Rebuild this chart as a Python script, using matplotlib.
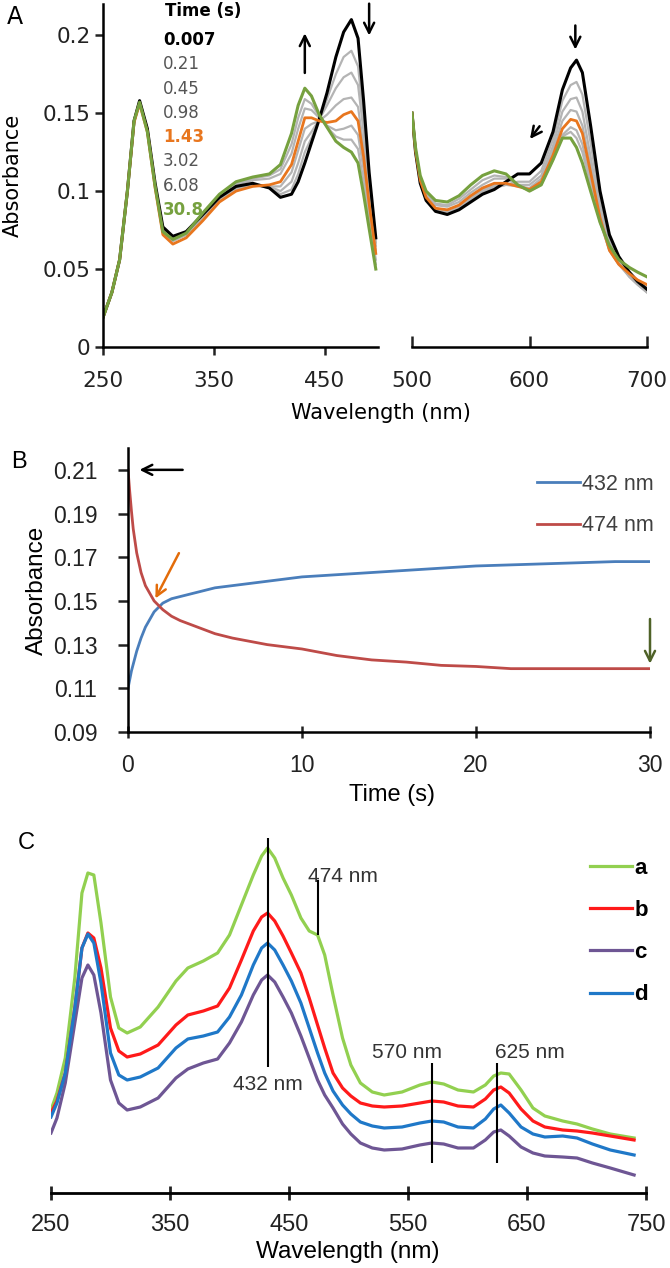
import matplotlib
matplotlib.use("Agg")
import matplotlib.pyplot as plt

W, H = 670, 1268

# ---------------- panel A: spectra at different times ----------------
time_labels = ["0.007", "0.21", "0.45", "0.98", "1.43", "3.02", "6.08", "30.8"]

wl_left = [250, 258, 265, 272, 278, 283, 290, 297, 304, 313, 325, 340, 355, 370, 385,
           400, 410, 420, 426, 432, 438, 445, 452, 460, 467, 474, 480, 485, 490, 496]
left_0007 = [0.019, 0.035, 0.056, 0.100, 0.145, 0.158, 0.140, 0.105, 0.077, 0.071,
             0.074, 0.085, 0.096, 0.103, 0.105, 0.102, 0.096, 0.098, 0.106, 0.118,
             0.131, 0.146, 0.163, 0.186, 0.202, 0.210, 0.198, 0.158, 0.112, 0.070]
left_021 = [0.019, 0.035, 0.056, 0.100, 0.145, 0.158, 0.140, 0.104, 0.076, 0.070,
            0.073, 0.084, 0.095, 0.102, 0.104, 0.102, 0.098, 0.101, 0.111, 0.125,
            0.134, 0.146, 0.159, 0.175, 0.186, 0.190, 0.180, 0.147, 0.106, 0.067]
left_045 = [0.019, 0.035, 0.056, 0.100, 0.145, 0.157, 0.139, 0.104, 0.075, 0.069,
            0.072, 0.083, 0.095, 0.102, 0.104, 0.103, 0.100, 0.106, 0.118, 0.132,
            0.138, 0.146, 0.155, 0.166, 0.173, 0.176, 0.168, 0.138, 0.101, 0.065]
left_098 = [0.019, 0.035, 0.056, 0.100, 0.145, 0.157, 0.139, 0.103, 0.074, 0.068,
            0.072, 0.083, 0.094, 0.101, 0.104, 0.103, 0.103, 0.112, 0.126, 0.140,
            0.143, 0.145, 0.149, 0.155, 0.159, 0.160, 0.154, 0.128, 0.096, 0.062]
left_143 = [0.019, 0.035, 0.056, 0.100, 0.144, 0.156, 0.138, 0.102, 0.072, 0.066,
            0.070, 0.081, 0.093, 0.100, 0.103, 0.104, 0.106, 0.117, 0.132, 0.147,
            0.147, 0.145, 0.144, 0.145, 0.149, 0.151, 0.145, 0.122, 0.092, 0.060]
left_302 = [0.019, 0.035, 0.056, 0.100, 0.145, 0.157, 0.139, 0.103, 0.073, 0.068,
            0.072, 0.084, 0.096, 0.104, 0.107, 0.108, 0.111, 0.124, 0.140, 0.153,
            0.152, 0.147, 0.142, 0.139, 0.140, 0.142, 0.136, 0.114, 0.085, 0.056]
left_608 = [0.019, 0.035, 0.056, 0.100, 0.145, 0.157, 0.139, 0.103, 0.074, 0.069,
            0.073, 0.085, 0.097, 0.105, 0.108, 0.110, 0.114, 0.130, 0.147, 0.159,
            0.156, 0.148, 0.141, 0.135, 0.133, 0.133, 0.127, 0.106, 0.080, 0.053]
left_308 = [0.019, 0.035, 0.056, 0.100, 0.145, 0.157, 0.138, 0.103, 0.074, 0.069,
            0.073, 0.086, 0.098, 0.106, 0.109, 0.111, 0.117, 0.137, 0.155, 0.166,
            0.161, 0.149, 0.141, 0.132, 0.128, 0.125, 0.118, 0.098, 0.076, 0.050]

wl_right = [500, 503, 507, 512, 520, 530, 540, 550, 560, 570, 580, 590, 600,
            610, 620, 628, 635, 640, 645, 652, 660, 668, 676, 685, 692, 700]
right_0007 = [0.150, 0.125, 0.105, 0.094, 0.087, 0.085, 0.088, 0.093, 0.098, 0.101, 0.106, 0.111, 0.111,
              0.118, 0.138, 0.165, 0.179, 0.184, 0.176, 0.142, 0.100, 0.072, 0.058, 0.048, 0.042, 0.037]
right_021 = [0.150, 0.126, 0.106, 0.095, 0.088, 0.086, 0.089, 0.094, 0.099, 0.102, 0.104, 0.106, 0.106,
             0.113, 0.133, 0.158, 0.168, 0.170, 0.162, 0.131, 0.093, 0.068, 0.055, 0.046, 0.041, 0.036]
right_045 = [0.150, 0.126, 0.106, 0.095, 0.088, 0.086, 0.089, 0.095, 0.100, 0.103, 0.104, 0.104, 0.104,
             0.110, 0.129, 0.151, 0.159, 0.160, 0.151, 0.122, 0.088, 0.065, 0.054, 0.045, 0.040, 0.035]
right_098 = [0.150, 0.126, 0.107, 0.096, 0.089, 0.087, 0.090, 0.096, 0.101, 0.104, 0.104, 0.103, 0.102,
             0.108, 0.126, 0.145, 0.152, 0.151, 0.142, 0.116, 0.085, 0.063, 0.053, 0.045, 0.040, 0.035]
right_143 = [0.150, 0.126, 0.107, 0.096, 0.089, 0.088, 0.091, 0.097, 0.102, 0.105, 0.105, 0.103, 0.101,
             0.106, 0.123, 0.140, 0.146, 0.145, 0.137, 0.112, 0.083, 0.062, 0.053, 0.047, 0.043, 0.040]
right_302 = [0.150, 0.127, 0.108, 0.098, 0.091, 0.090, 0.093, 0.099, 0.104, 0.108, 0.108, 0.104, 0.101,
             0.105, 0.121, 0.136, 0.141, 0.139, 0.130, 0.107, 0.081, 0.062, 0.053, 0.046, 0.042, 0.038]
right_608 = [0.150, 0.127, 0.109, 0.099, 0.092, 0.091, 0.095, 0.101, 0.107, 0.110, 0.109, 0.104, 0.100,
             0.104, 0.120, 0.135, 0.138, 0.134, 0.125, 0.104, 0.080, 0.062, 0.053, 0.046, 0.042, 0.038]
right_308 = [0.150, 0.128, 0.110, 0.100, 0.094, 0.093, 0.097, 0.104, 0.110, 0.113, 0.111, 0.104, 0.100,
             0.104, 0.120, 0.134, 0.134, 0.128, 0.118, 0.100, 0.080, 0.065, 0.056, 0.051, 0.048, 0.045]

# ---------------- panel B: kinetic traces ----------------
time_s = [0, 0.1, 0.2, 0.3, 0.5, 0.75, 1, 1.5, 2, 2.5, 3, 4, 5, 6, 8, 10,
          12, 14, 16, 18, 20, 22, 24, 26, 28, 30]
abs_432 = [0.110, 0.114, 0.118, 0.121, 0.127, 0.133, 0.138, 0.145, 0.149, 0.151, 0.152, 0.154, 0.156,
           0.157, 0.159, 0.161, 0.162, 0.163, 0.164, 0.165, 0.166, 0.1665, 0.167, 0.1675, 0.168, 0.168]
abs_474 = [0.210, 0.200, 0.191, 0.183, 0.172, 0.163, 0.157, 0.150, 0.146, 0.143, 0.141, 0.138, 0.135,
           0.133, 0.130, 0.128, 0.125, 0.123, 0.122, 0.1205, 0.120, 0.119, 0.119, 0.119, 0.119, 0.119]

# ---------------- panel C: spectra a-d ----------------
wl_c = [250, 255, 262, 270, 276, 281, 286, 292, 300, 307,
        314, 325, 340, 355, 365, 378, 390, 400, 410, 420,
        427, 432, 438, 445, 452, 460, 467, 474, 480, 487,
        495, 502, 510, 520, 530, 545, 560, 570, 580, 592,
        605, 615, 622, 628, 635, 645, 655, 665, 680, 692,
        705, 720, 740]
spec_a = [0.083, 0.100, 0.135, 0.215, 0.300, 0.320, 0.318, 0.270, 0.196, 0.165,
          0.160, 0.166, 0.186, 0.212, 0.225, 0.232, 0.240, 0.258, 0.288, 0.318,
          0.337, 0.345, 0.335, 0.315, 0.298, 0.275, 0.262, 0.258, 0.238, 0.198,
          0.155, 0.128, 0.110, 0.101, 0.098, 0.101, 0.108, 0.111, 0.109, 0.103,
          0.101, 0.108, 0.117, 0.120, 0.119, 0.103, 0.085, 0.077, 0.072, 0.069,
          0.064, 0.059, 0.055]
spec_b = [0.080, 0.092, 0.120, 0.185, 0.245, 0.260, 0.255, 0.225, 0.165, 0.142,
          0.136, 0.139, 0.148, 0.168, 0.178, 0.182, 0.187, 0.205, 0.233, 0.262,
          0.276, 0.280, 0.272, 0.257, 0.240, 0.220, 0.195, 0.168, 0.145, 0.120,
          0.105, 0.097, 0.090, 0.087, 0.086, 0.087, 0.090, 0.092, 0.091, 0.087,
          0.086, 0.094, 0.103, 0.106, 0.100, 0.084, 0.072, 0.066, 0.063, 0.062,
          0.060, 0.057, 0.053]
spec_c = [0.060, 0.075, 0.110, 0.170, 0.215, 0.228, 0.218, 0.180, 0.113, 0.090,
          0.083, 0.086, 0.095, 0.115, 0.124, 0.130, 0.134, 0.150, 0.171, 0.198,
          0.213, 0.218, 0.211, 0.196, 0.180, 0.157, 0.135, 0.113, 0.098, 0.085,
          0.069, 0.059, 0.050, 0.045, 0.043, 0.044, 0.048, 0.050, 0.049, 0.045,
          0.045, 0.053, 0.061, 0.063, 0.057, 0.046, 0.040, 0.037, 0.036, 0.035,
          0.030, 0.025, 0.018]
spec_d = [0.076, 0.090, 0.120, 0.185, 0.245, 0.259, 0.250, 0.210, 0.140, 0.118,
          0.113, 0.116, 0.125, 0.145, 0.154, 0.157, 0.161, 0.176, 0.198, 0.228,
          0.245, 0.250, 0.243, 0.228, 0.212, 0.190, 0.165, 0.140, 0.120, 0.102,
          0.088, 0.079, 0.071, 0.067, 0.065, 0.066, 0.070, 0.072, 0.071, 0.066,
          0.065, 0.074, 0.084, 0.088, 0.080, 0.066, 0.059, 0.056, 0.057, 0.055,
          0.049, 0.043, 0.038]
c_labels = ["a", "b", "c", "d"]
peak_marks = [432, 474, 570, 625]


def box(l, t, r, b):
    # pixel box -> figure fraction [left, bottom, width, height]
    return [l / W, 1 - b / H, (r - l) / W, (b - t) / H]


def ftext(x, y, s, **kw):
    fig.text(x / W, 1 - y / H, s, **kw)


def style_ticks(ax, family, size):
    for lbl in ax.get_xticklabels() + ax.get_yticklabels():
        lbl.set_fontfamily(family)
        lbl.set_fontsize(size)


plt.rcParams['font.family'] = ['Liberation Sans', 'DejaVu Sans']
fig = plt.figure(figsize=(W / 100, H / 100), dpi=100)

GRAY = "#b4b4b4"
ORANGE = "#e8761e"
GREEN_A = "#76a13f"
fam_a = "DejaVu Sans"

# ---- A left / right
axL = fig.add_axes(box(103, 4, 378, 347))
axR = fig.add_axes(box(412, 4, 647, 347))
left_sets = [left_0007, left_021, left_045, left_098, left_143, left_302, left_608, left_308]
right_sets = [right_0007, right_021, right_045, right_098, right_143, right_302, right_608, right_308]
for ax, wl, sets in [(axL, wl_left, left_sets), (axR, wl_right, right_sets)]:
    for i in [1, 2, 3, 5, 6]:
        ax.plot(wl, sets[i], color=GRAY, lw=1.6)
    ax.plot(wl, sets[0], color="black", lw=2.2)
    ax.plot(wl, sets[4], color=ORANGE, lw=2.0)
    ax.plot(wl, sets[7], color=GREEN_A, lw=2.2)
    ax.set_ylim(0, 0.22)
    for s in ["top", "right"]:
        ax.spines[s].set_visible(False)
    for s in ["left", "bottom"]:
        ax.spines[s].set_linewidth(1.8)

axL.set_xlim(250, 498)
axL.set_xticks([250, 350, 450])
axL.set_yticks([0, 0.05, 0.1, 0.15, 0.2])
axL.set_yticklabels(["0", "0.05", "0.1", "0.15", "0.2"])
axL.tick_params(axis="y", direction="out", length=6, width=1.8, pad=3, colors="#222222")
axL.tick_params(axis="x", direction="out", length=6, width=1.8, pad=11, colors="#222222")
style_ticks(axL, fam_a, 15.5)

axR.set_xlim(500, 700)
axR.set_xticks([500, 600, 700])
axR.spines["left"].set_visible(False)
axR.set_yticks([])
axR.tick_params(axis="x", direction="in", length=8, width=1.8, pad=17, colors="#222222")
style_ticks(axR, fam_a, 15.5)

arr = dict(arrowstyle="->", color="black", lw=1.8, mutation_scale=18)
axL.annotate("", xy=(432, 0.203), xytext=(432, 0.174), arrowprops=arr)
axL.annotate("", xy=(490, 0.198), xytext=(490, 0.222), arrowprops=arr, annotation_clip=False)
axR.annotate("", xy=(639, 0.189), xytext=(639, 0.208), arrowprops=arr)
axR.annotate("", xy=(599, 0.132), xytext=(610, 0.143), arrowprops=arr)

ftext(15, 17, "A", fontsize=17, family=fam_a, ha="center", va="center")
ftext(13, 175, "Absorbance", fontsize=15, family=fam_a, rotation=90, ha="center", va="center")
ftext(381, 413, "Wavelength (nm)", fontsize=15, family=fam_a, ha="center", va="center")

ftext(165, 11, "Time (s)", fontsize=12, family=fam_a, weight="bold", va="center")
leg_colors = ["black", "#555555", "#555555", "#555555", ORANGE, "#555555", "#555555", GREEN_A]
leg_bold = [True, False, False, False, True, False, False, True]
for i, lab in enumerate(time_labels):
    ftext(163, 40 + i * 24.3, lab, fontsize=12, family=fam_a, color=leg_colors[i],
          weight="bold" if leg_bold[i] else "normal", va="center")

# ---- B
axB = fig.add_axes(box(128, 448, 650, 732))
axB.plot(time_s, abs_432, color="#4a7ebb", lw=2.0, label="432 nm")
axB.plot(time_s, abs_474, color="#be4b48", lw=2.0, label="474 nm")
axB.set_xlim(0, 30)
axB.set_ylim(0.09, 0.22)
axB.set_xticks([0, 10, 20, 30])
axB.set_yticks([0.09, 0.11, 0.13, 0.15, 0.17, 0.19, 0.21])
axB.set_yticklabels(["0.09", "0.11", "0.13", "0.15", "0.17", "0.19", "0.21"])
for s in ["top", "right"]:
    axB.spines[s].set_visible(False)
for s in ["left", "bottom"]:
    axB.spines[s].set_linewidth(1.8)
axB.tick_params(axis="y", direction="out", length=7, width=1.8, pad=15, colors="#222222")
axB.tick_params(axis="x", direction="inout", length=9, width=1.8, pad=11, colors="#222222")
style_ticks(axB, "Liberation Sans", 16.5)
axB.legend(loc="upper left", bbox_to_anchor=(537 / W, 1 - 474 / H), bbox_transform=fig.transFigure,
           frameon=False, fontsize=15.5, handlelength=2.0, handletextpad=0.1,
           labelspacing=0.95, borderpad=0, borderaxespad=0, labelcolor="#404040")
axB.annotate("", xy=(0.5, 0.21), xytext=(3.3, 0.21),
             arrowprops=dict(arrowstyle="->", color="black", lw=1.8, mutation_scale=18))
axB.annotate("", xy=(1.5, 0.150), xytext=(3.0, 0.173),
             arrowprops=dict(arrowstyle="->", color="#e36c0a", lw=1.8, mutation_scale=18))
axB.annotate("", xy=(30, 0.120), xytext=(30, 0.143),
             arrowprops=dict(arrowstyle="->", color="#4f6228", lw=1.8, mutation_scale=18))
ftext(19, 462, "B", fontsize=17, ha="center", va="center")
ftext(37, 590, "Absorbance", fontsize=17.5, rotation=90, ha="center", va="center")
ftext(392, 795, "Time (s)", fontsize=17, ha="center", va="center")

# ---- C
axC = fig.add_axes(box(51, 833, 646, 1193))
c_colors = ["#92d050", "#ff1a1a", "#6e5694", "#1f78c8"]
for lab, spec, col in zip(c_labels, [spec_a, spec_b, spec_c, spec_d], c_colors):
    axC.plot(wl_c, spec, color=col, lw=2.3, label=lab)
axC.set_xlim(250, 750)
axC.set_ylim(0, 0.36)
axC.set_xticks([250, 350, 450, 550, 650, 750])
axC.set_yticks([])
for s in ["top", "right", "left"]:
    axC.spines[s].set_visible(False)
axC.spines["bottom"].set_linewidth(2.0)
axC.tick_params(axis="x", direction="inout", length=10, width=2.0, pad=10, colors="#222222")
style_ticks(axC, "Liberation Sans", 17)

axC.vlines(peak_marks[0], 0.126, 0.355, color="black", lw=1.5)
axC.vlines(peak_marks[1], 0.258, 0.313, color="black", lw=1.5)
axC.vlines(peak_marks[2], 0.030, 0.130, color="black", lw=1.5)
axC.vlines(peak_marks[3], 0.030, 0.130, color="black", lw=1.5)
axC.text(432, 0.108, "432 nm", fontsize=15, ha="center", va="center", color="#333333")
axC.text(466, 0.317, "474 nm", fontsize=15, ha="left", va="center", color="#333333")
axC.text(549, 0.141, "570 nm", fontsize=15, ha="center", va="center", color="#333333")
axC.text(652, 0.141, "625 nm", fontsize=15, ha="center", va="center", color="#333333")

leg = axC.legend(loc="upper left", bbox_to_anchor=(590 / W, 1 - 858 / H), bbox_transform=fig.transFigure,
                 frameon=False, handlelength=1.9, handletextpad=0.1, labelspacing=0.95,
                 borderpad=0, borderaxespad=0, prop={"size": 16, "weight": "bold"})
ftext(26, 843, "C", fontsize=17, ha="center", va="center")
ftext(348, 1252, "Wavelength (nm)", fontsize=17.5, ha="center", va="center")

fig.savefig("out.png", dpi=100)
